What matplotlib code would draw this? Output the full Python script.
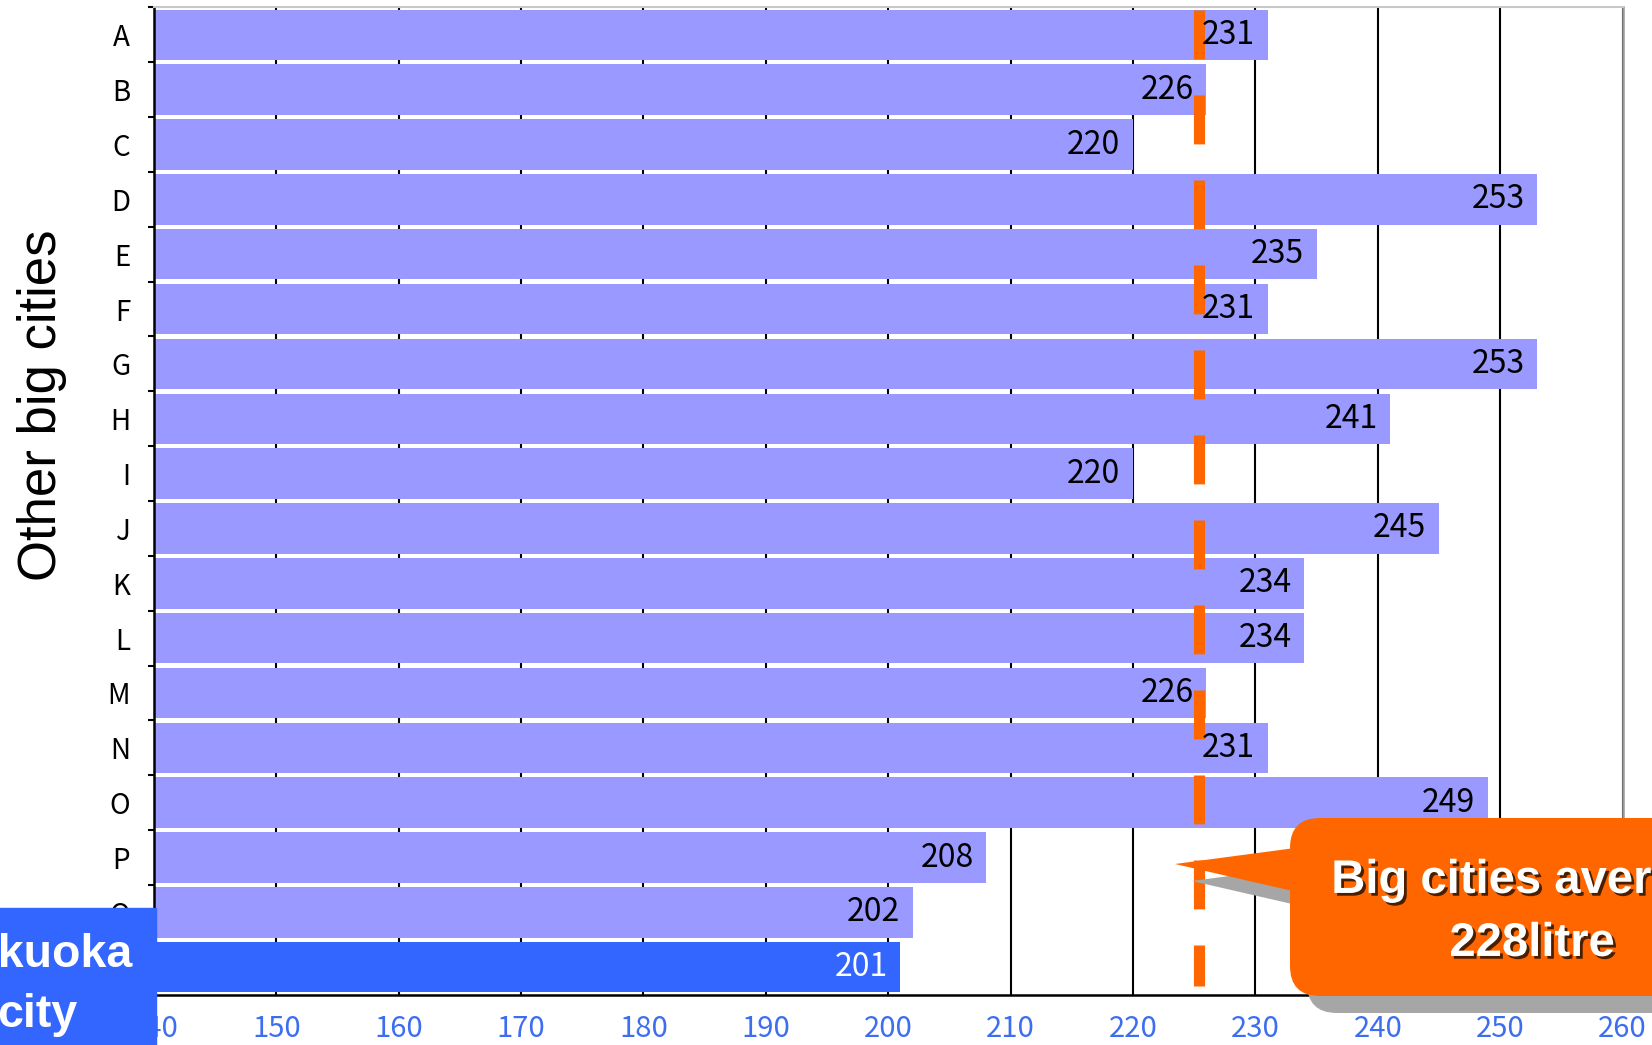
import numpy as np
import matplotlib.pyplot as plt
import matplotlib.patheffects as pe
from matplotlib.patches import FancyBboxPatch, Polygon, Rectangle
from matplotlib.transforms import IdentityTransform

# data
cities = list("ABCDEFGHIJKLMNOPQ") + ["Fukuoka city"]
usage = [231, 226, 220, 253, 235, 231, 253, 241, 220, 245, 234, 234, 226, 231, 249, 208, 202, 201]
avg_text = "Big cities average\n228litre"
avg_line = 225.4
x_ticks = np.arange(140, 261, 10)

plt.rcParams['font.family'] = ['Noto Sans CJK JP', 'DejaVu Sans']

fig = plt.figure(figsize=(16.52, 10.45), dpi=100)
ax = fig.add_axes([0.0931, 0.0482, 0.8891, 0.9447])

y = np.arange(len(cities))
colors = ['#9999FF'] * (len(cities) - 1) + ['#3366FF']
ax.barh(y, usage, height=0.92, color=colors, zorder=2)

ax.set_xlim(140, 260)
ax.set_ylim(len(cities) - 0.5, -0.5)

# value labels inside the bar ends
for i, v in enumerate(usage):
    ax.annotate(str(v), xy=(v, i), xytext=(-9, 0), textcoords='offset points',
                ha='right', va='center', fontsize=23,
                color='white' if i == len(cities) - 1 else 'black', zorder=5)

# average line
ax.plot([avg_line, avg_line], [-0.45, len(cities) - 0.65], color='#FF6600', lw=8,
        linestyle=(0, (4.4, 3.25)), dash_capstyle='butt', zorder=4)

# axes styling
ax.set_xticks(x_ticks)
ax.set_xticklabels([str(t) for t in x_ticks], fontsize=21, color='#3D6EF0')
ax.tick_params(axis='x', length=0, pad=14)
ax.set_yticks(y)
ax.set_yticklabels(cities, fontsize=20)
ax.tick_params(axis='y', which='major', length=0, pad=17)
ax.set_yticks(np.arange(-0.5, len(cities), 1), minor=True)
ax.tick_params(axis='y', which='minor', length=4, width=1.5, direction='out')
ax.xaxis.grid(True, color='black', lw=1.5)
ax.set_axisbelow(True)
for s in ['left', 'bottom']:
    ax.spines[s].set_linewidth(1.8)
ax.spines['right'].set_color('#999999')
ax.spines['right'].set_linewidth(1.8)
ax.spines['top'].set_color('#C8C8C8')
ax.spines['top'].set_linewidth(1.5)

fig.text(0.0255, 0.612, 'Other big cities', rotation=90, ha='center', va='center',
         fontsize=38, family='Liberation Sans')

# Fukuoka box on the left
fig.add_artist(Rectangle((-0.1, 0), 0.1944, 0.131, transform=fig.transFigure,
                         color='#3366FF', zorder=10))
fig.text(0.0225, 0.0746, 'Fukuoka', ha='center', va='baseline', fontsize=33.5,
         fontweight='bold', color='white', family='Liberation Sans', zorder=11)
fig.text(0.0225, 0.0172, 'city', ha='center', va='baseline', fontsize=33.5,
         fontweight='bold', color='white', family='Liberation Sans', zorder=11)

# callout (pixel coords)
px = IdentityTransform()
for dx, dy, c, z in [(17, -17, '#A6A6A6', 11), (0, 0, '#FF6600', 12)]:
    fig.add_artist(FancyBboxPatch((1290 + dx, 49 + dy), 520, 178,
                                  boxstyle='round,pad=0,rounding_size=30',
                                  transform=px, fc=c, ec='none', zorder=z))
    fig.add_artist(Polygon([[1175 + dx, 181 + dy], [1310 + dx, 199 + dy], [1310 + dx, 150 + dy]],
                           closed=True, transform=px, fc=c, ec='none', zorder=z))

shadow = [pe.withSimplePatchShadow(offset=(2, -2), shadow_rgbFace='black', alpha=0.7)]
line1, line2 = avg_text.split('\n')
fig.text(0.9275, 0.1455, line1, ha='center', va='baseline', fontsize=34, fontweight='bold',
         color='white', family='Liberation Sans', zorder=13, path_effects=shadow)
fig.text(0.9275, 0.0852, line2, ha='center', va='baseline', fontsize=34, fontweight='bold',
         color='white', family='Liberation Sans', zorder=13, path_effects=shadow)

fig.savefig('out.png', dpi=100)
